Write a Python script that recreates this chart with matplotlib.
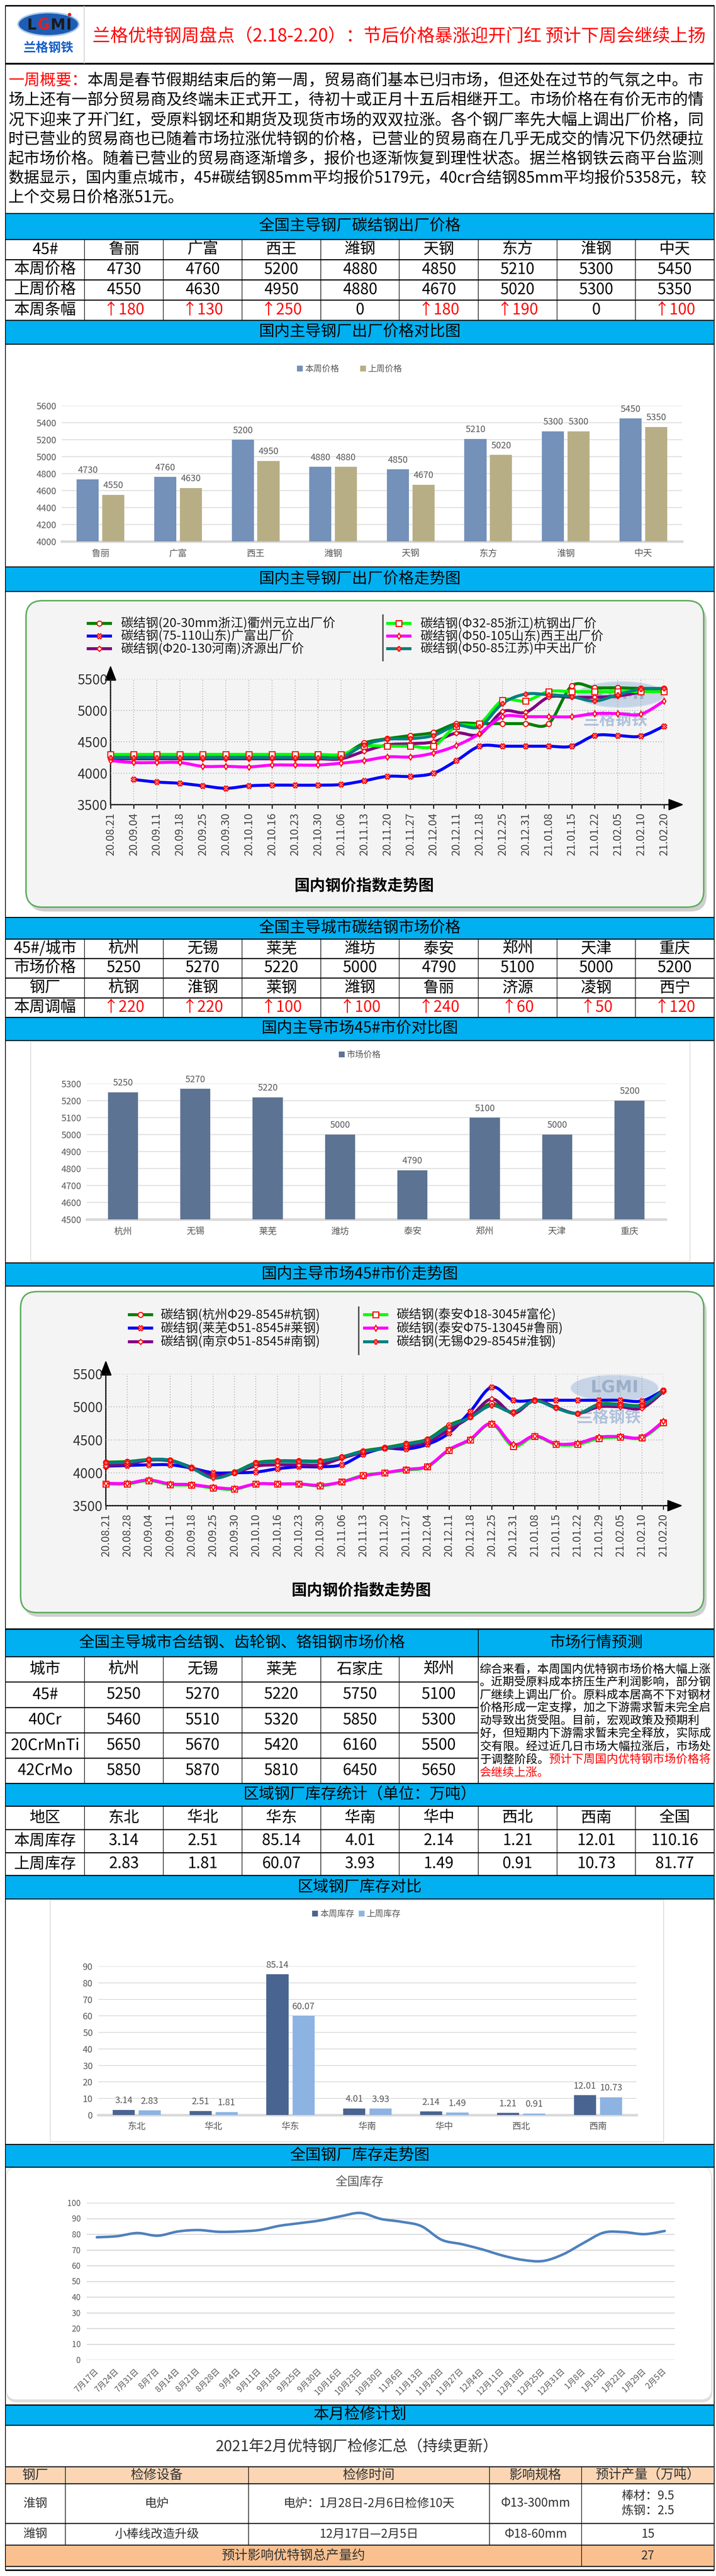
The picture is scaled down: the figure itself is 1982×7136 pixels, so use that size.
import numpy as np
import matplotlib
matplotlib.use('Agg')
import matplotlib.pyplot as plt
from matplotlib.patches import Rectangle, FancyBboxPatch, Ellipse, PathPatch
from matplotlib.path import Path

plt.rcParams['font.family'] = ['Noto Sans CJK SC', 'DejaVu Sans']
plt.rcParams['axes.unicode_minus'] = False

W, H = 1983, 7136
CYAN = '#00B0F0'
GRAY = '#595959'

# ---------------- data ----------------
title = '兰格优特钢周盘点（2.18-2.20）：节后价格暴涨迎开门红 预计下周会继续上扬'
summary_head = '一周概要：'
summary_lines = [
    '本周是春节假期结束后的第一周，贸易商们基本已归市场，但还处在过节的气氛之中。市',
    '场上还有一部分贸易商及终端未正式开工，待初十或正月十五后相继开工。市场价格在有价无市的情',
    '况下迎来了开门红，受原料钢坯和期货及现货市场的双双拉涨。各个钢厂率先大幅上调出厂价格，同',
    '时已营业的贸易商也已随着市场拉涨优特钢的价格，已营业的贸易商在几乎无成交的情况下仍然硬拉',
    '起市场价格。随着已营业的贸易商逐渐增多，报价也逐渐恢复到理性状态。据兰格钢铁云商平台监测',
    '数据显示，国内重点城市，45#碳结钢85mm平均报价5179元，40cr合结钢85mm平均报价5358元，较',
    '上个交易日价格涨51元。',
]

mills = ['鲁丽', '广富', '西王', '潍钢', '天钢', '东方', '淮钢', '中天']
mill_this = [4730, 4760, 5200, 4880, 4850, 5210, 5300, 5450]
mill_last = [4550, 4630, 4950, 4880, 4670, 5020, 5300, 5350]

dates1 = ['20.08.21', '20.09.04', '20.09.11', '20.09.18', '20.09.25', '20.09.30', '20.10.10',
          '20.10.16', '20.10.23', '20.10.30', '20.11.06', '20.11.13', '20.11.20', '20.11.27',
          '20.12.04', '20.12.11', '20.12.18', '20.12.25', '20.12.31', '21.01.08', '21.01.15',
          '21.01.22', '21.02.05', '21.02.10', '21.02.20']
labels1 = ['碳结钢(20-30mm浙江)衢州元立出厂价', '碳结钢(75-110山东)广富出厂价',
           '碳结钢(Φ20-130河南)济源出厂价', '碳结钢(Φ32-85浙江)杭钢出厂价',
           '碳结钢(Φ50-105山东)西王出厂价', '碳结钢(Φ50-85江苏)中天出厂价']
quzhou = [4280, 4280, 4280, 4280, 4280, 4280, 4280, 4280, 4280, 4280, 4280, 4480, 4550,
          4600, 4650, 4790, 4790, 4790, 4790, 4790, 5390, 5360, 5360, 5350, 5350]
guangfu = [None, 3900, 3860, 3840, 3800, 3760, 3800, 3810, 3810, 3810, 3820, 3880, 3950,
           3950, 4000, 4200, 4430, 4430, 4430, 4430, 4430, 4600, 4600, 4590, 4750]
jiyuan = [4230, 4230, 4230, 4230, 4230, 4230, 4230, 4230, 4230, 4230, 4230, 4350, 4450,
          4470, 4500, 4640, 4620, 4980, 4970, 5210, 5210, 5210, 5230, 5290, 5340]
hanggang = [4300, 4300, 4300, 4300, 4300, 4300, 4300, 4300, 4300, 4300, 4300, 4430, 4430,
            4430, 4430, 4750, 4790, 5160, 5150, 5300, 5300, 5300, 5300, 5300, 5300]
xiwang = [4200, 4170, 4170, 4170, 4110, 4110, 4100, 4130, 4130, 4130, 4160, 4200, 4260,
          4260, 4320, 4440, 4630, 4900, 4900, 4900, 4900, 4950, 4950, 4940, 5150]
zhongtian = [4250, 4250, 4250, 4250, 4250, 4250, 4250, 4250, 4250, 4250, 4250, 4450, 4540,
             4550, 4600, 4760, 4740, 5110, 5260, 5250, 5220, 5150, 5250, 5340, 5350]

cities = ['杭州', '无锡', '莱芜', '潍坊', '泰安', '郑州', '天津', '重庆']
city_price = [5250, 5270, 5220, 5000, 4790, 5100, 5000, 5200]
city_mill = ['杭钢', '淮钢', '莱钢', '潍钢', '鲁丽', '济源', '凌钢', '西宁']
city_chg = [220, 220, 100, 100, 240, 60, 50, 120]

dates2 = ['20.08.21', '20.08.28', '20.09.04', '20.09.11', '20.09.18', '20.09.25', '20.09.30',
          '20.10.10', '20.10.16', '20.10.23', '20.10.30', '20.11.06', '20.11.13', '20.11.20',
          '20.11.27', '20.12.04', '20.12.11', '20.12.18', '20.12.25', '20.12.31', '21.01.08',
          '21.01.15', '21.01.22', '21.01.29', '21.02.05', '21.02.10', '21.02.20']
labels2 = ['碳结钢(杭州Φ29-8545#杭钢)', '碳结钢(莱芜Φ51-8545#莱钢)', '碳结钢(南京Φ51-8545#南钢)',
           '碳结钢(泰安Φ18-3045#富伦)', '碳结钢(泰安Φ75-13045#鲁丽)', '碳结钢(无锡Φ29-8545#淮钢)']
hz = [4160, 4170, 4200, 4190, 4080, 3940, 4010, 4150, 4180, 4180, 4180, 4240, 4330, 4380,
      4440, 4510, 4720, 4850, 5050, 4920, 5100, 4990, 4900, 5040, 5040, 5030, 5250]
lw_ = [4100, 4110, 4120, 4120, 4070, 4000, 4000, 4010, 4060, 4090, 4090, 4120, 4280, 4370,
       4360, 4430, 4600, 4930, 5300, 5100, 5100, 5100, 5100, 5100, 5100, 5090, 5250]
nj = [4110, 4130, 4190, 4180, 4080, 3950, 4000, 4100, 4120, 4120, 4120, 4220, 4310, 4370,
      4400, 4470, 4650, 4850, 5120, 4900, 5100, 4990, 4900, 5000, 5000, 4980, 5230]
fl = [3830, 3830, 3880, 3820, 3810, 3770, 3750, 3830, 3830, 3830, 3800, 3860, 3960, 4000,
      4040, 4090, 4340, 4500, 4740, 4400, 4550, 4430, 4430, 4520, 4540, 4530, 4760]
ll = [3840, 3840, 3890, 3830, 3820, 3780, 3760, 3830, 3830, 3830, 3810, 3860, 3950, 4000,
      4050, 4100, 4350, 4510, 4750, 4430, 4560, 4440, 4450, 4540, 4550, 4540, 4780]
wx = [4150, 4160, 4200, 4190, 4070, 3920, 4000, 4140, 4170, 4170, 4170, 4240, 4320, 4370,
      4430, 4500, 4700, 4840, 5020, 4920, 5090, 4980, 4900, 5030, 5030, 5020, 5250]

alloy_cities = ['杭州', '无锡', '莱芜', '石家庄', '郑州']
grades = ['45#', '40Cr', '20CrMnTi', '42CrMo']
alloy_prices = [[5250, 5270, 5220, 5750, 5100],
                [5460, 5510, 5320, 5850, 5300],
                [5650, 5670, 5420, 6160, 5500],
                [5850, 5870, 5810, 6450, 5650]]
forecast_lines = [
    '综合来看，本周国内优特钢市场价格大幅上涨',
    '。近期受原料成本挤压生产利润影响，部分钢',
    '厂继续上调出厂价。原料成本居高不下对钢材',
    '价格形成一定支撑，加之下游需求暂未完全启',
    '动导致出货受阻。目前，宏观政策及预期利',
    '好，但短期内下游需求暂未完全释放，实际成',
    '交有限。经过近几日市场大幅拉涨后，市场处',
    '于调整阶段。',
    '',
]
forecast_red = ['', '', '', '', '', '', '', '预计下周国内优特钢市场价格将', '会继续上涨。']

regions = ['东北', '华北', '华东', '华南', '华中', '西北', '西南', '全国']
stock_this = [3.14, 2.51, 85.14, 4.01, 2.14, 1.21, 12.01, 110.16]
stock_last = [2.83, 1.81, 60.07, 3.93, 1.49, 0.91, 10.73, 81.77]

stock_dates = ['7月17日', '7月24日', '7月31日', '8月7日', '8月14日', '8月21日', '8月28日', '9月4日',
               '9月11日', '9月18日', '9月25日', '9月30日', '10月16日', '10月23日', '10月30日',
               '11月6日', '11月13日', '11月20日', '11月27日', '12月4日', '12月11日', '12月18日',
               '12月25日', '12月31日', '1月8日', '1月15日', '1月22日', '1月29日', '2月5日']
stock_total = [78.0, 78.7, 80.7, 79.0, 81.7, 82.6, 81.5, 81.7, 82.6, 85.3, 87.0, 88.7, 91.3,
               93.5, 89.7, 87.9, 85.1, 76.4, 73.6, 70.3, 66.4, 63.6, 62.9, 67.2, 74.4, 81.0,
               81.3, 80.0, 82.0]

maint_head = ['钢厂', '检修设备', '检修时间', '影响规格', '预计产量（万吨）']
maint_rows = [['淮钢', '电炉', '电炉：1月28日-2月6日检修10天', 'Φ13-300mm', '棒材：9.5\n炼钢：2.5'],
              ['潍钢', '小棒线改造升级', '12月17日—2月5日', 'Φ18-60mm', '15']]
maint_total = ['预计影响优特钢总产量约', '27']

# ---------------- canvas ----------------
fig = plt.figure(figsize=(W / 100, H / 100), dpi=100)
ax0 = fig.add_axes([0, 0, 1, 1])
ax0.set_xlim(0, W)
ax0.set_ylim(H, 0)
ax0.axis('off')
renderer = fig.canvas.get_renderer()


def px_axes(x0, y0, x1, y1):
    a = fig.add_axes([x0 / W, 1 - y1 / H, (x1 - x0) / W, (y1 - y0) / H])
    a.patch.set_alpha(0)
    return a


def box(x0, y0, x1, y1, fc, ec='none', lw=0, z=1):
    ax0.add_patch(Rectangle((x0, y0), x1 - x0, y1 - y0, fc=fc, ec=ec, lw=lw, zorder=z))


def line(xs, ys, lw=2, color='black', z=4):
    ax0.plot(xs, ys, color=color, lw=lw, zorder=z, solid_capstyle='butt')


def label(x, y, s, size, color='black', ha='center', maxw=None, **kw):
    t = ax0.text(x, y, s, fontsize=size, color=color, ha=ha, va='center', zorder=5, **kw)
    if maxw:
        w = t.get_window_extent(renderer=renderer).width
        if w > maxw:
            t.set_fontsize(size * maxw / w)
    return t


def band(y0, y1, s, x0=15, x1=1977, cx=None):
    box(x0, y0, x1, y1, CYAN)
    line([x0, x1], [y0, y0], lw=2)
    line([x0, x1], [y1, y1], lw=2)
    label(cx if cx else (x0 + x1) / 2, (y0 + y1) / 2, s, 31)


def table(cols, rows, cells, size=31, hlw=2.2, vlw=1.2):
    for r in range(len(rows) - 1):
        cy = (rows[r] + rows[r + 1]) / 2
        for c in range(len(cols) - 1):
            item = cells[r][c]
            s, col = item if isinstance(item, tuple) else (item, 'black')
            label((cols[c] + cols[c + 1]) / 2, cy, s, size, col, maxw=cols[c + 1] - cols[c] - 8)
    for y in rows:
        line([cols[0], cols[-1]], [y, y], lw=hlw)
    for x in cols:
        line([x, x], [rows[0], rows[-1]], lw=vlw)


def smooth(ax, xs, ys, **kw):
    pts = list(zip(xs, ys))
    verts, codes = [pts[0]], [Path.MOVETO]
    for i in range(len(pts) - 1):
        p0 = pts[i - 1] if i > 0 else pts[i]
        p1, p2 = pts[i], pts[i + 1]
        p3 = pts[i + 2] if i + 2 < len(pts) else pts[i + 1]
        c1 = (p1[0] + (p2[0] - p0[0]) / 6, p1[1] + (p2[1] - p0[1]) / 6)
        c2 = (p2[0] - (p3[0] - p1[0]) / 6, p2[1] - (p3[1] - p1[1]) / 6)
        verts += [c1, c2, p2]
        codes += [Path.CURVE4] * 3
    ax.add_patch(PathPatch(Path(verts, codes), fill=False, capstyle='round',
                           joinstyle='round', clip_on=False, zorder=3, **kw))


def legend_sq(items, y, size=17):
    for x, c, s in items:
        box(x, y - 9, x + 16, y + 7, c, z=6)
        label(x + 22, y, s, size, GRAY, ha='left')


# outer frame
line([15, 15], [15, 7120], lw=1.5)
line([1977, 1977], [15, 7120], lw=1.5)

# ---------------- header ----------------
line([15, 1977], [16, 16], lw=3)
line([15, 1977], [176, 176], lw=3.5)
line([233, 233], [16, 176], lw=1.5, color='#CCCCCC')
ax0.add_patch(Ellipse((134, 67), 168, 64, fc='#1E5DB5', ec='#A8C8EC', lw=3, zorder=3))
for lx, ch, c in [(87, 'L', '#1A1A1A'), (121, 'G', '#E02020'), (160, 'M', '#1A1A1A'), (190, 'I', '#1A1A1A')]:
    ax0.text(lx, 70, ch, fontsize=30, color=c, ha='center', va='center', fontweight='bold',
             family='DejaVu Sans', zorder=6)
ax0.plot([192], [40], marker='o', ms=6, color='#E02020', zorder=6)
label(134, 133, '兰格钢铁', 25, '#1660C8', fontweight='bold')
label(1105, 100, title, 36, '#FF0000', maxw=1698)

# ---------------- summary ----------------
sum_y = [222, 277, 333, 386, 440, 494, 547]
head = label(23, sum_y[0], summary_head, 31.5, '#FF0000', ha='left')
hw = head.get_window_extent(renderer=renderer).width
label(23 + hw, sum_y[0], summary_lines[0], 31.5, ha='left', maxw=1955 - 23 - hw)
for yy, s in zip(sum_y[1:], summary_lines[1:]):
    label(23, yy, s, 31.5, ha='left', maxw=1932)

# ---------------- table 1 ----------------
cols9 = [15, 234, 452, 670, 888, 1105, 1324, 1542, 1759, 1977]
band(591, 663, '全国主导钢厂碳结钢出厂价格')
chg1 = [(('↑%d' % (a - b)), '#FF0000') if a != b else '0' for a, b in zip(mill_this, mill_last)]
table(cols9, [663, 719, 775, 831, 887],
      [['45#'] + mills, ['本周价格'] + [str(v) for v in mill_this],
       ['上周价格'] + [str(v) for v in mill_last], ['本周条幅'] + chg1])
band(887, 953, '国内主导钢厂出厂价格对比图')


def bar_chart(bx, ylim, yticks, cats, series, colors, width, offsets, ypad, xpad):
    ax = px_axes(*bx)
    x = np.arange(len(cats))
    for vals, c, off in zip(series, colors, offsets):
        ax.bar(x + off, vals, width, color=c, zorder=2)
        for xi, v in zip(x + off, vals):
            ax.annotate(str(v), (xi, v), xytext=(0, 9), textcoords='offset points', ha='center',
                        va='bottom', fontsize=18, color=GRAY, annotation_clip=False)
    ax.set_xlim(-0.5, len(cats) - 0.5)
    ax.set_ylim(*ylim)
    ax.set_yticks(yticks)
    ax.set_xticks(x, cats)
    ax.tick_params(length=0, labelsize=18, labelcolor=GRAY)
    ax.tick_params(axis='y', pad=ypad)
    ax.tick_params(axis='x', pad=xpad)
    ax.yaxis.grid(True, color='#D9D9D9', lw=1.5)
    ax.set_axisbelow(True)
    for s in ax.spines.values():
        s.set_visible(False)
    ax.axhline(ylim[0], color='#D9D9D9', lw=5, zorder=1, clip_on=False)
    return ax


legend_sq([(822, '#7391B9', '本周价格'), (997, '#B8AE85', '上周价格')], 1022)
bar_chart((171, 1124, 1888, 1500), (4000, 5600), np.arange(4000, 5601, 200), mills,
          [mill_this, mill_last], ['#7391B9', '#B8AE85'], 0.285, [-0.165, 0.165], 11, 15)

# ---------------- trend chart 1 ----------------
styles = [dict(color='#008000', marker='o', ms=10),
          dict(color='#0000FF', marker='X', ms=10),
          dict(color='#800080', marker='D', ms=7),
          dict(color='#00FF00', marker='s', ms=12),
          dict(color='#FF00FF', marker='d', ms=8),
          dict(color='#008080', marker='P', ms=8)]


def panel(x0, y0, x1, y1, fc, ec, r=45):
    ax0.add_patch(FancyBboxPatch((x0 + 8, y0 + 12), x1 - x0, y1 - y0,
                                 boxstyle='round,pad=0,rounding_size=%d' % r,
                                 fc='#CFCFCF', ec='none', zorder=1.5))
    ax0.add_patch(FancyBboxPatch((x0, y0), x1 - x0, y1 - y0,
                                 boxstyle='round,pad=0,rounding_size=%d' % r,
                                 fc=fc, ec=ec, lw=3, zorder=2))


def watermark(cx, cy, ty):
    ax0.add_patch(Ellipse((cx, cy), 240, 70, fc='#A9C0DD', ec='#C8D8EC', lw=3, alpha=0.6, zorder=2.5))
    ax0.text(cx, cy, 'LGMI', fontsize=34, color='#8AA0BC', ha='center', va='center',
             fontweight='bold', family='DejaVu Sans', alpha=0.7, zorder=2.6)
    label(cx - 15, ty, '兰格钢铁', 32, '#9FB6D6', fontweight='bold', alpha=0.8)


def trend(bx, dates, series, labels, ylim, leg_rows, leg_x, txt_x, sep_x, sep_y, title_xy, arrow_end):
    x0, y0, x1, y1 = bx
    for i, (lab, st) in enumerate(zip(labels, styles)):
        col, row = i // 3, i % 3
        yy = leg_rows[row]
        ax0.plot([leg_x[col], leg_x[col] + 70], [yy, yy], color=st['color'], lw=6, zorder=4,
                 solid_capstyle='butt')
        ax0.plot([leg_x[col] + 35], [yy], ls='none', marker=st['marker'], ms=st['ms'],
                 mfc='white', mec='red', mew=2.2, zorder=5)
        label(txt_x[col], yy, lab, 25, '#1A1A1A', ha='left')
    line([sep_x, sep_x], sep_y, lw=3, color='#555555')
    label(title_xy[0], title_xy[1], '国内钢价指数走势图', 31, fontweight='bold')
    ax0.annotate('', xy=(x0, y0 - 38), xytext=(x0, y1),
                 arrowprops=dict(arrowstyle='-|>,head_length=1.3,head_width=0.5', lw=2.5,
                                 color='black', mutation_scale=20, shrinkA=0, shrinkB=0), zorder=4)
    ax0.annotate('', xy=(arrow_end, y1), xytext=(x0, y1),
                 arrowprops=dict(arrowstyle='-|>,head_length=1.3,head_width=0.5', lw=2.5,
                                 color='black', mutation_scale=20, shrinkA=0, shrinkB=0), zorder=4)
    ax = px_axes(*bx)
    n = len(dates)
    ax.set_xlim(0, n - 1)
    ax.set_ylim(*ylim)
    for vals, st in zip(series, styles):
        xs = [i for i, v in enumerate(vals) if v is not None]
        ys = [v for v in vals if v is not None]
        smooth(ax, xs, ys, color=st['color'], lw=6)
        ax.plot(xs, ys, ls='none', marker=st['marker'], ms=st['ms'], mfc='white', mec='red',
                mew=2.2, clip_on=False, zorder=4)
    ax.set_xticks(range(n), dates, rotation=90)
    ax.set_yticks(np.arange(ylim[0], ylim[1] + 1, 500))
    ax.tick_params(axis='x', length=8, width=2, pad=8, labelsize=22, labelcolor='#444444')
    ax.tick_params(axis='y', length=0, labelsize=27, pad=6, labelcolor='#333333')
    ax.grid(True, color='#9A9A9A', lw=1.5, ls=(0, (1, 2.5)))
    ax.set_axisbelow(True)
    for s in ax.spines.values():
        s.set_visible(False)
    return ax


band(1570, 1638, '国内主导钢厂出厂价格走势图')
panel(72, 1664, 1948, 2513, '#F4F4F4', '#5FAE5F')
watermark(1719, 1924, 1995)
trend((306, 1881, 1838, 2229), dates1, [quzhou, guangfu, jiyuan, hanggang, xiwang, zhongtian],
      labels1, (3500, 5500), [1727, 1762, 1797], [240, 1069], [335, 1164], 1060, [1702, 1832],
      (1008, 2455), 1893)

# ---------------- table 2 ----------------
band(2541, 2601, '全国主导城市碳结钢市场价格')
table(cols9, [2601, 2655, 2709, 2764, 2818],
      [['45#/城市'] + cities, ['市场价格'] + [str(v) for v in city_price],
       ['钢厂'] + city_mill, ['本周调幅'] + [('↑%d' % v, '#FF0000') for v in city_chg]])
band(2818, 2882, '国内主导市场45#市价对比图')
box(85, 2884, 1910, 3494, 'white', ec='#D9D9D9', lw=1.5, z=2)
legend_sq([(938, '#5C7393', '市场价格')], 2922)
bar_chart((240, 3002, 1843, 3378), (4500, 5300), np.arange(4500, 5301, 100), cities,
          [city_price], ['#5C7393'], 0.415, [0], 11, 15)

# ---------------- trend chart 2 ----------------
band(3498, 3562, '国内主导市场45#市价走势图')
panel(57, 3578, 1948, 4467, '#F4F4F4', '#5FAE5F')
watermark(1701, 3845, 3927)
trend((293, 3806, 1836, 4171), dates2, [hz, lw_, nj, fl, ll, wx], labels2, (3500, 5500),
      [3642, 3679, 3717], [354, 1005], [445, 1098], 993, [3619, 3754], (1000, 4407), 1890)

# ---------------- table 3 + forecast ----------------
line([15, 1977], [4513, 4513], lw=3)
box(15, 4514, 1977, 4589, CYAN)
line([15, 1977], [4589, 4589], lw=2)
label(670, 4551, '全国主导城市合结钢、齿轮钢、铬钼钢市场价格', 31)
label(1651, 4551, '市场行情预测', 31)
line([1324, 1324], [4514, 4940], lw=1.5)
table(cols9[:7], [4589, 4659, 4730, 4800, 4870, 4940],
      [['城市'] + alloy_cities] + [[g] + [str(v) for v in row] for g, row in zip(grades, alloy_prices)])
for yy, s, r in zip([4625, 4660, 4696, 4731, 4767, 4802, 4839, 4875, 4911], forecast_lines, forecast_red):
    x = 1328
    if s:
        t = label(x, yy, s, 23, ha='left', maxw=642)
        x += t.get_window_extent(renderer=renderer).width
    if r:
        label(x, yy, r, 23, '#FF0000', ha='left', maxw=1972 - x)
line([1324, 1977], [4940, 4940], lw=2.2)

# ---------------- inventory table ----------------
band(4940, 5003, '区域钢厂库存统计（单位：万吨）')
table(cols9, [5003, 5068, 5132, 5195],
      [['地区'] + regions, ['本周库存'] + ['%.2f' % v for v in stock_this],
       ['上周库存'] + ['%.2f' % v for v in stock_last]])

# ---------------- inventory bar chart ----------------
band(5195, 5260, '区域钢厂库存对比')
box(139, 5264, 1837, 5933, 'white', ec='#D9D9D9', lw=1.5, z=2)
legend_sq([(864, '#4A6491', '本周库存'), (993, '#8DB3E2', '上周库存')], 5302)
bar_chart((272, 5447, 1762, 5859), (0, 90), np.arange(0, 91, 10), regions[:7],
          [stock_this[:7], stock_last[:7]], ['#4A6491', '#8DB3E2'], 0.287, [-0.17, 0.17], 11, 14)

# ---------------- inventory trend ----------------
band(5940, 6003, '全国钢厂库存走势图')
ax0.add_patch(FancyBboxPatch((17, 6010), 1955, 645, boxstyle='round,pad=0,rounding_size=30',
                             fc='#E2DDD8', ec='none', zorder=1.5))
ax0.add_patch(FancyBboxPatch((17, 6003), 1953, 645, boxstyle='round,pad=0,rounding_size=30',
                             fc='white', ec='#DDDDDD', lw=1.5, zorder=2))
label(995, 6044, '全国库存', 24, GRAY)
ax3 = px_axes(240, 6102, 1868, 6537)
ax3.set_xlim(-0.5, len(stock_dates) - 0.5)
ax3.set_ylim(0, 100)
smooth(ax3, list(range(len(stock_total))), stock_total, color='#4F81BD', lw=5)
ax3.set_yticks(np.arange(0, 101, 10))
ax3.set_xticks(range(len(stock_dates)))
ax3.set_xticklabels(stock_dates, rotation=45, ha='right', va='center', rotation_mode='anchor')
ax3.tick_params(length=0, labelsize=16, labelcolor=GRAY)
ax3.tick_params(axis='y', pad=12)
ax3.tick_params(axis='x', pad=20)
ax3.yaxis.grid(True, color='#D9D9D9', lw=2)
ax3.set_axisbelow(True)
for s in ax3.spines.values():
    s.set_visible(False)

# ---------------- maintenance ----------------
line([15, 1977], [6662, 6662], lw=2.5)
band(6662, 6718, '本月检修计划')
label(987, 6778, '2021年2月优特钢厂检修汇总（持续更新）', 30, '#333333')
mcols = [15, 181, 688, 1355, 1610, 1977]
box(15, 6833, 1977, 6880, '#FCD5B4')
box(15, 7050, 1977, 7109, '#FAC090')
for c, s in enumerate(maint_head):
    label((mcols[c] + mcols[c + 1]) / 2, 6857, s, 26, '#333333', maxw=mcols[c + 1] - mcols[c] - 8)
for (ya, yb), row in zip([(6880, 6990), (6990, 7050)], maint_rows):
    for c, s in enumerate(row):
        parts = s.split('\n')
        cy = (ya + yb) / 2
        for k, p in enumerate(parts):
            label((mcols[c] + mcols[c + 1]) / 2, cy + (k - (len(parts) - 1) / 2) * 41, p, 24, '#333333')
label((mcols[0] + mcols[4]) / 2, 7080, maint_total[0], 26, '#333333')
label((mcols[4] + mcols[5]) / 2, 7080, maint_total[1], 24, '#333333')
for y in [6833, 6880, 6990, 7050, 7109]:
    line([15, 1977], [y, y], lw=2.2, color='#222222')
for x in mcols:
    line([x, x], [6833, 7050], lw=1.2)
for x in [15, 1610, 1977]:
    line([x, x], [7050, 7109], lw=1.2)
line([15, 1977], [7120, 7120], lw=3)

fig.savefig('out.png', dpi=100)
